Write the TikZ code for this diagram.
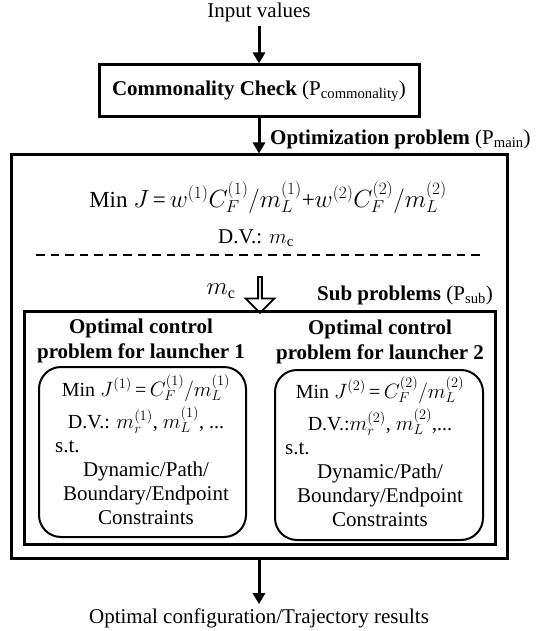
\documentclass[tikz,border=0pt]{standalone}
\usepackage{fontspec}
\setmainfont{Liberation Serif}
\usetikzlibrary{arrows.meta,shapes.arrows}
\begin{document}
\begin{tikzpicture}[x=1pt,y=-1pt,
  every node/.style={font=\fontsize{21}{25}\selectfont, inner sep=0pt},
  frame/.style={draw, line width=3pt},
  rbox/.style={draw, line width=2pt, rounded corners=22pt},
  arr/.style={line width=3pt, -{Triangle[width=12pt,length=11pt]}},
  bigmath/.style={font=\fontsize{23}{27}\selectfont},
  smallmath/.style={font=\fontsize{20}{24}\selectfont},
  hollow/.style={single arrow, draw, line width=1.8pt, shape border rotate=270,
    minimum height=36pt, minimum width=29pt, single arrow head extend=6pt,
    single arrow head indent=0pt}
]
\useasboundingbox (0,0) rectangle (535,631);

% frames
\node[frame, minimum width=320pt, minimum height=52pt] (cc) at (259,91)
  {\textbf{Commonality Check} (P\textsubscript{commonality})};
\node[frame, minimum width=496pt, minimum height=403pt] (main) at (259,356.5) {};
\node[frame, minimum width=471pt, minimum height=233pt] (sub) at (259.5,427.5) {};
\node[rbox, minimum width=207pt, minimum height=170pt] (lb) at (142.5,452) {};
\node[rbox, minimum width=208pt, minimum height=170pt] (rb) at (379,455) {};

% top / bottom texts
\node (inp) at (259,12) {Input values};
\node (out) at (259,618) {Optimal configuration/Trajectory results};
\node[anchor=west] (optl) at (270,139) {\textbf{Optimization problem} (P\textsubscript{main})};

% main problem
\node[bigmath] (minj) at (268,198) {Min $J$\,=\,$w^{(1)}C_F^{(1)}/m_L^{(1)}$+$w^{(2)}C_F^{(2)}/m_L^{(2)}$};
\node (dv) at (256,238) {D.V.: $m_{\mathrm{c}}$};
\coordinate (dl) at (36,255);
\coordinate (dr) at (483,255);
\draw[line width=1.6pt, dash pattern=on 8.5pt off 6pt] (dl) -- (dr);
\node[bigmath] (mc) at (221,291) {$m_{\mathrm{c}}$};
\node[hollow] (harr) at (260,294) {};
\node[anchor=west] (subl) at (317,295) {\textbf{Sub problems} (P\textsubscript{sub})};

% left sub-problem
\node[align=center] (lt) at (141,341) {\textbf{Optimal control}\\\textbf{problem for launcher 1}};
\node[smallmath] (l1) at (146,388) {Min $J^{(1)}$\,=\,$C_F^{(1)}/m_L^{(1)}$};
\node[smallmath] (l2) at (146,420) {D.V.: $m_r^{(1)}$, $m_L^{(1)}$, ...};
\node[anchor=west] (l3) at (55,447) {s.t.};
\node (l4) at (146,471) {Dynamic/Path/};
\node (l5) at (146,495) {Boundary/Endpoint};
\node (l6) at (146,518) {Constraints};

% right sub-problem
\node[align=center] (rt) at (380,342) {\textbf{Optimal control}\\\textbf{problem for launcher 2}};
\node[smallmath] (r1) at (380,390) {Min $J^{(2)}$\,=\,$C_F^{(2)}/m_L^{(2)}$};
\node[smallmath] (r2) at (380,422) {D.V.:$m_r^{(2)}$, $m_L^{(2)}$,...};
\node[anchor=west] (r3) at (285,449) {s.t.};
\node (r4) at (380,473) {Dynamic/Path/};
\node (r5) at (380,497) {Boundary/Endpoint};
\node (r6) at (380,520) {Constraints};

% connectors
\draw[arr, shorten <=4pt] (inp.south) -- (cc.north);
\draw[arr] (cc.south) -- (main.north);
\draw[arr, shorten >=4pt] (main.south) -- (out.north);
\end{tikzpicture}
\end{document}
